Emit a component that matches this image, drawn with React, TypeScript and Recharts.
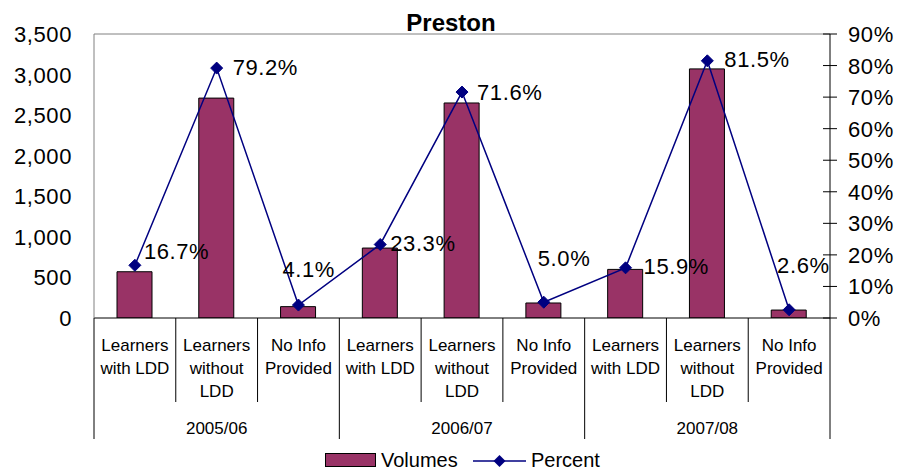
import React from 'react';
import { ComposedChart, Bar, Line, XAxis, YAxis, ReferenceLine, LabelList } from 'recharts';

// ---------- data ----------
const years = ['2005/06', '2006/07', '2007/08'];
const groups = ['Learners with LDD', 'Learners without LDD', 'No Info Provided'];
const groupLines = [['Learners', 'with LDD'], ['Learners', 'without', 'LDD'], ['No Info', 'Provided']];
const volumes = [570, 2710, 140, 862, 2650, 185, 599, 3070, 98];
const percents = [16.7, 79.2, 4.1, 23.3, 71.6, 5.0, 15.9, 81.5, 2.6];
const volumeTicks = [0, 500, 1000, 1500, 2000, 2500, 3000, 3500];
const percentTicks = [0, 10, 20, 30, 40, 50, 60, 70, 80, 90];

const data = volumes.map((v, i) => ({
  key: `${years[Math.floor(i / groups.length)]}|${groups[i % groups.length]}`,
  year: years[Math.floor(i / groups.length)],
  group: i % groups.length,
  volume: v,
  percent: percents[i],
}));

// ---------- layout / style ----------
const W = 898;
const H = 470;
const LEFT_W = 94;
const RIGHT_W = 68;
const TOP = 34;
const XAXIS_H = 152;
const BAND = (W - LEFT_W - RIGHT_W) / data.length;
const FONT = '"Liberation Sans", Arial, Helvetica, sans-serif';
const BAR_FILL = '#993366';
const LINE_COLOR = '#000080';
// label offsets (dx to text start, dy to text centre) per point
const LABEL_OFFSETS: [number, number][] = [
  [9, -14], [16, -1], [-16, -36],
  [10, -1], [15, 0], [-6, -44],
  [18, -2], [17, -2], [-12, -45],
];

const fmtThousands = (v: number) => v.toLocaleString('en-US');

const LeftTick = (props: any) => {
  const { x, y, payload } = props;
  return (
    <text x={x - 22} y={y + 8} textAnchor="end" fontFamily={FONT} fontSize={22} letterSpacing={0.6} fill="#000">
      {fmtThousands(payload.value)}
    </text>
  );
};

const RightTick = (props: any) => {
  const { x, y, payload } = props;
  return (
    <g>
      <line x1={x - 7} x2={x + 7} y1={y} y2={y} stroke="#000" strokeWidth={1} />
      <text x={x + 18} y={y + 8} textAnchor="start" fontFamily={FONT} fontSize={22} letterSpacing={0.6} fill="#000">
        {`${payload.value}%`}
      </text>
    </g>
  );
};

const CategoryTick = (props: any) => {
  const { x, y, payload } = props;
  const index: number = payload.index ?? data.findIndex((d) => d.key === payload.value);
  const d = data[index];
  if (!d) return null;
  const gi = d.group;
  const lines = groupLines[gi];
  const leftX = x - BAND / 2;
  const rightX = x + BAND / 2;
  const isGroupStart = gi === 0;
  const isLast = index === data.length - 1;
  return (
    <g>
      <line x1={leftX} x2={leftX} y1={y} y2={y + (isGroupStart ? 121 : 84)} stroke="#000" strokeWidth={1} />
      {isLast && <line x1={rightX} x2={rightX} y1={y} y2={y + 121} stroke="#000" strokeWidth={1} />}
      {lines.map((t, li) => (
        <text key={li} x={x} y={y + 33 + li * 22.8} textAnchor="middle" fontFamily={FONT} fontSize={17} fill="#000">
          {t}
        </text>
      ))}
      {gi === 1 && (
        <text x={x} y={y + 116} textAnchor="middle" fontFamily={FONT} fontSize={17} fill="#000">
          {d.year}
        </text>
      )}
    </g>
  );
};

const Diamond = (props: any) => {
  const { cx, cy } = props;
  if (cx == null || cy == null) return null;
  const r = 6;
  return (
    <polygon
      points={`${cx},${cy - r} ${cx + r},${cy} ${cx},${cy + r} ${cx - r},${cy}`}
      fill={LINE_COLOR}
      stroke={LINE_COLOR}
    />
  );
};

const PercentLabel = (props: any) => {
  const vb = props.viewBox || {};
  const x = props.x ?? vb.x;
  const y = props.y ?? vb.y;
  const index = props.index ?? 0;
  if (x == null || y == null) return null;
  const [dx, dy] = LABEL_OFFSETS[index] || [10, 0];
  return (
    <text x={x + dx} y={y + dy + 8} textAnchor="start" fontFamily={FONT} fontSize={22} letterSpacing={0.6} fill="#000">
      {`${Number(props.value).toFixed(1)}%`}
    </text>
  );
};

export default function App() {
  return (
    <div style={{ position: 'fixed', left: 0, top: 0, width: W, height: H, background: '#fff' }}>
      <ComposedChart
        width={W}
        height={H}
        data={data}
        margin={{ top: TOP, right: 0, bottom: 0, left: 0 }}
      >
        <XAxis
          dataKey="key"
          height={XAXIS_H}
          interval={0}
          tickLine={false}
          tickSize={0}
          tickMargin={0}
          axisLine={{ stroke: '#000', strokeWidth: 1 }}
          tick={<CategoryTick />}
        />
        <YAxis
          yAxisId="left"
          orientation="left"
          width={LEFT_W}
          domain={[0, 3500]}
          ticks={volumeTicks}
          interval={0}
          tickLine={false}
          tickSize={0}
          tickMargin={0}
          axisLine={{ stroke: '#808080', strokeWidth: 1 }}
          tick={<LeftTick />}
          allowDataOverflow
        />
        <YAxis
          yAxisId="right"
          orientation="right"
          width={RIGHT_W}
          domain={[0, 90]}
          ticks={percentTicks}
          interval={0}
          tickLine={false}
          tickSize={0}
          tickMargin={0}
          axisLine={{ stroke: '#000', strokeWidth: 1 }}
          tick={<RightTick />}
          allowDataOverflow
        />
        <ReferenceLine yAxisId="left" y={3500} stroke="#808080" strokeWidth={1} />
        <Bar
          yAxisId="left"
          dataKey="volume"
          name="Volumes"
          fill={BAR_FILL}
          stroke="#000"
          strokeWidth={1}
          barSize={35}
          isAnimationActive={false}
        />
        <Line
          yAxisId="right"
          dataKey="percent"
          name="Percent"
          type="linear"
          stroke={LINE_COLOR}
          strokeWidth={1.5}
          dot={<Diamond />}
          activeDot={false}
          isAnimationActive={false}
        >
          <LabelList dataKey="percent" content={<PercentLabel />} />
        </Line>
      </ComposedChart>
      <svg width={W} height={H} style={{ position: 'absolute', left: 0, top: 0, pointerEvents: 'none' }}>
        <text x={451} y={30.5} textAnchor="middle" fontFamily={FONT} fontSize={24} fontWeight="bold" fill="#000">
          Preston
        </text>
        <rect x={325.5} y={453.5} width={50} height={13} fill={BAR_FILL} stroke="#000" strokeWidth={1} />
        <text x={381} y={467} fontFamily={FONT} fontSize={20} fill="#000">Volumes</text>
        <line x1={473} x2={526} y1={461} y2={461} stroke={LINE_COLOR} strokeWidth={1.5} />
        <polygon points="499.5,455 505.5,461 499.5,467 493.5,461" fill={LINE_COLOR} />
        <text x={531} y={467} fontFamily={FONT} fontSize={20} fill="#000">Percent</text>
      </svg>
    </div>
  );
}
